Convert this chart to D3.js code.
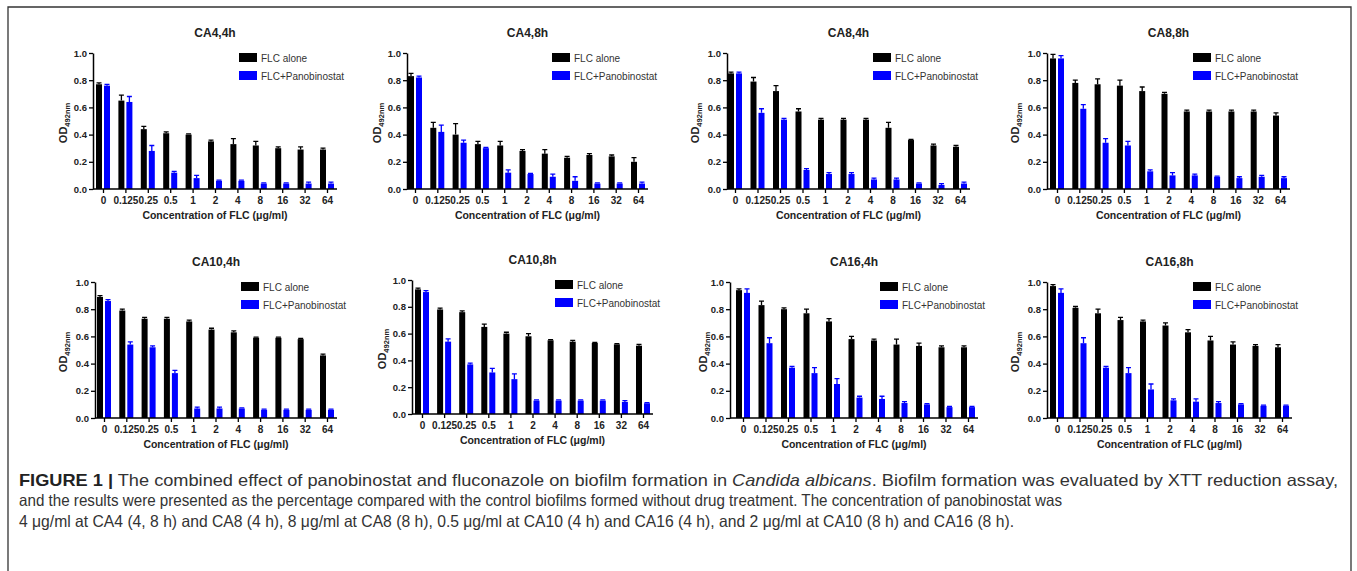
<!DOCTYPE html>
<html><head><meta charset="utf-8">
<script src="https://cdn.jsdelivr.net/npm/d3@7"></script>
<style>body{margin:0;background:#fff}svg{display:block}</style>
</head><body>
<svg id="c" width="1357" height="571"></svg>
<script>
// ---------- DATA ----------
const concentrations = ["0","0.125","0.25","0.5","1","2","4","8","16","32","64"];
const yTicks = [0, 0.2, 0.4, 0.6, 0.8, 1.0];
const seriesNames = ["FLC alone", "FLC+Panobinostat"];
const panelTitles = ["CA4,4h","CA4,8h","CA8,4h","CA8,8h","CA10,4h","CA10,8h","CA16,4h","CA16,8h"];

const ca4_4h_flc      = [0.77,0.65,0.44,0.41,0.40,0.35,0.33,0.32,0.30,0.29,0.29];
const ca4_4h_flcErr   = [0.01,0.04,0.02,0.01,0.005,0.01,0.04,0.03,0.01,0.02,0.01];
const ca4_4h_combo    = [0.76,0.64,0.28,0.12,0.08,0.06,0.06,0.04,0.04,0.04,0.04];
const ca4_4h_comboErr = [0.01,0.04,0.04,0.01,0.02,0.005,0.005,0.005,0.005,0.01,0.01];

const ca4_8h_flc      = [0.83,0.45,0.40,0.33,0.32,0.28,0.26,0.23,0.25,0.24,0.20];
const ca4_8h_flcErr   = [0.02,0.04,0.08,0.02,0.03,0.01,0.03,0.01,0.01,0.01,0.03];
const ca4_8h_combo    = [0.82,0.42,0.34,0.30,0.12,0.11,0.09,0.06,0.04,0.04,0.04];
const ca4_8h_comboErr = [0.01,0.05,0.02,0.005,0.02,0.005,0.02,0.03,0.005,0.005,0.01];

const ca8_4h_flc      = [0.85,0.79,0.72,0.57,0.51,0.51,0.51,0.45,0.36,0.32,0.31];
const ca8_4h_flcErr   = [0.01,0.03,0.04,0.02,0.01,0.01,0.01,0.04,0.005,0.01,0.01];
const ca8_4h_combo    = [0.85,0.56,0.51,0.14,0.11,0.11,0.07,0.07,0.04,0.03,0.04];
const ca8_4h_comboErr = [0.01,0.03,0.01,0.01,0.01,0.01,0.01,0.01,0.005,0.01,0.01];

const ca8_8h_flc      = [0.96,0.78,0.77,0.76,0.72,0.70,0.57,0.57,0.57,0.57,0.54];
const ca8_8h_flcErr   = [0.03,0.02,0.04,0.04,0.03,0.01,0.01,0.01,0.01,0.01,0.02];
const ca8_8h_combo    = [0.96,0.59,0.34,0.32,0.13,0.10,0.10,0.09,0.08,0.09,0.08];
const ca8_8h_comboErr = [0.02,0.03,0.03,0.03,0.01,0.02,0.01,0.005,0.01,0.01,0.01];

const ca10_4h_flc      = [0.89,0.79,0.73,0.73,0.71,0.65,0.63,0.59,0.59,0.58,0.46];
const ca10_4h_flcErr   = [0.01,0.01,0.01,0.01,0.01,0.01,0.01,0.005,0.005,0.005,0.01];
const ca10_4h_combo    = [0.86,0.54,0.52,0.33,0.07,0.07,0.07,0.06,0.06,0.06,0.06];
const ca10_4h_comboErr = [0.01,0.02,0.01,0.02,0.01,0.01,0.005,0.005,0.005,0.005,0.005];

const ca10_8h_flc      = [0.93,0.78,0.76,0.65,0.60,0.58,0.55,0.54,0.53,0.52,0.51];
const ca10_8h_flcErr   = [0.01,0.01,0.01,0.02,0.01,0.02,0.005,0.01,0.005,0.005,0.01];
const ca10_8h_combo    = [0.91,0.54,0.37,0.31,0.26,0.10,0.10,0.10,0.10,0.09,0.08];
const ca10_8h_comboErr = [0.01,0.02,0.01,0.03,0.04,0.005,0.005,0.005,0.005,0.01,0.005];

const ca16_4h_flc      = [0.94,0.83,0.80,0.77,0.71,0.58,0.57,0.54,0.53,0.52,0.52];
const ca16_4h_flcErr   = [0.01,0.03,0.01,0.03,0.02,0.02,0.01,0.04,0.02,0.01,0.01];
const ca16_4h_combo    = [0.92,0.55,0.37,0.33,0.25,0.15,0.14,0.11,0.10,0.08,0.08];
const ca16_4h_comboErr = [0.03,0.04,0.01,0.04,0.04,0.01,0.02,0.01,0.005,0.005,0.005];

const ca16_8h_flc      = [0.97,0.81,0.77,0.72,0.71,0.68,0.63,0.57,0.54,0.53,0.52];
const ca16_8h_flcErr   = [0.01,0.01,0.03,0.02,0.01,0.02,0.02,0.03,0.02,0.01,0.02];
const ca16_8h_combo    = [0.92,0.55,0.37,0.33,0.21,0.13,0.12,0.11,0.10,0.09,0.09];
const ca16_8h_comboErr = [0.03,0.04,0.01,0.04,0.04,0.01,0.02,0.01,0.005,0.005,0.005];

// ---------- LAYOUT ----------
const panelData = [
  [ca4_4h_flc, ca4_4h_flcErr, ca4_4h_combo, ca4_4h_comboErr],
  [ca4_8h_flc, ca4_8h_flcErr, ca4_8h_combo, ca4_8h_comboErr],
  [ca8_4h_flc, ca8_4h_flcErr, ca8_4h_combo, ca8_4h_comboErr],
  [ca8_8h_flc, ca8_8h_flcErr, ca8_8h_combo, ca8_8h_comboErr],
  [ca10_4h_flc, ca10_4h_flcErr, ca10_4h_combo, ca10_4h_comboErr],
  [ca10_8h_flc, ca10_8h_flcErr, ca10_8h_combo, ca10_8h_comboErr],
  [ca16_4h_flc, ca16_4h_flcErr, ca16_4h_combo, ca16_4h_comboErr],
  [ca16_8h_flc, ca16_8h_flcErr, ca16_8h_combo, ca16_8h_comboErr]
];
const layout = [
  {ax:93,  f:103, l:327, y1:53,  y0:189, lg:239, yt:63},
  {ax:407, f:415, l:638, y1:53,  y0:189, lg:552, yt:377},
  {ax:727, f:735, l:960, y1:53,  y0:189, lg:873, yt:695},
  {ax:1047,f:1057,l:1280,y1:53,  y0:189, lg:1193,yt:1015},
  {ax:95,  f:104, l:327, y1:282, y0:418, lg:241, yt:63},
  {ax:412, f:422, l:643, y1:280, y0:414, lg:555, yt:382},
  {ax:730, f:743, l:968, y1:282, y0:418, lg:880, yt:703},
  {ax:1047,f:1057,l:1282,y1:282, y0:418, lg:1193,yt:1015}
];
const colors = ["#000000", "#0000ff"];
const FONT = "'Liberation Sans', Arial, Helvetica, sans-serif";

const svg = d3.select("#c");

svg.append("path").attr("d","M8,571 V7 H1351 V571")
  .attr("fill","none").attr("stroke","#333").attr("stroke-width",1.3);

panelData.forEach((pd, i) => {
  const L = layout[i];
  const g = svg.append("g");
  const x = d3.scalePoint().domain(concentrations).range([L.f, L.l]);
  const y = d3.scaleLinear().domain([0, 1]).range([L.y0, L.y1]);
  const bw = 6, gap = 1;
  const series = [
    {vals: pd[0], errs: pd[1], off: -gap - bw, c: colors[0]},
    {vals: pd[2], errs: pd[3], off: gap, c: colors[1]}
  ];
  series.forEach(s => {
    const rows = concentrations.map((k, j) => ({k, v: s.vals[j], e: s.errs[j]}));
    g.append("g").selectAll("path").data(rows).join("path")
      .attr("d", d => {
        const cx = x(d.k) + s.off + bw / 2;
        return `M${cx},${y(d.v)}V${y(d.v + d.e)}M${cx - 2.5},${y(d.v + d.e)}H${cx + 2.5}`;
      })
      .attr("stroke", s.c).attr("stroke-width", 1.3).attr("fill", "none");
    g.append("g").selectAll("rect").data(rows).join("rect")
      .attr("x", d => x(d.k) + s.off)
      .attr("width", bw)
      .attr("y", d => y(d.v))
      .attr("height", d => y(0) - y(d.v))
      .attr("fill", s.c);
  });

  const ya = g.append("g").attr("transform", `translate(${L.ax},0)`)
    .call(d3.axisLeft(y).tickValues(yTicks).tickFormat(d3.format(".1f")).tickSize(4).tickSizeOuter(0));
  ya.select(".domain").attr("stroke-width", 1.5);
  ya.selectAll(".tick line").attr("stroke-width", 1.3);
  ya.selectAll("text").attr("font-family", FONT).attr("font-weight", "bold")
    .attr("font-size", 9.5).attr("fill", "#222").attr("x", -6);

  const xa = g.append("g").attr("transform", `translate(0,${L.y0})`)
    .call(d3.axisBottom(x).tickSize(4).tickSizeOuter(0));
  xa.select(".domain").remove();
  xa.append("line").attr("x1", L.ax).attr("x2", L.l + 10).attr("stroke", "#000").attr("stroke-width", 1.5);
  xa.selectAll(".tick line").attr("stroke-width", 1.3);
  xa.selectAll("text").attr("font-family", FONT).attr("font-weight", "bold")
    .attr("font-size", 10).attr("fill", "#222").attr("y", 8);

  g.append("text").attr("x", (L.ax + L.l + 10) / 2).attr("y", L.y0 + 30)
    .attr("text-anchor", "middle").attr("font-family", FONT).attr("font-weight", "bold")
    .attr("font-size", 10.5).attr("fill", "#222").text("Concentration of FLC (μg/ml)");

  g.append("text").attr("x", (L.ax + L.l + 10) / 2).attr("y", L.y1 - 16)
    .attr("text-anchor", "middle").attr("font-family", FONT).attr("font-weight", "bold")
    .attr("font-size", 12).attr("fill", "#222").text(panelTitles[i]);

  const yt = g.append("text")
    .attr("transform", `translate(${L.yt + 4},${(L.y0 + L.y1) / 2 + 2}) rotate(-90)`)
    .attr("text-anchor", "middle").attr("font-family", FONT).attr("font-weight", "bold")
    .attr("font-size", 11).attr("fill", "#222");
  yt.append("tspan").text("OD");
  yt.append("tspan").attr("font-size", 7.5).attr("dy", 3).text("492nm");

  seriesNames.forEach((nm, k) => {
    const ly = L.y1 + k * 18;
    g.append("rect").attr("x", L.lg).attr("y", ly).attr("width", 18).attr("height", 9)
      .attr("fill", colors[k]);
    g.append("text").attr("x", L.lg + 22).attr("y", ly + 8.5)
      .attr("font-family", FONT).attr("font-size", 10).attr("fill", "#333").text(nm);
  });
});

// ---------- CAPTION ----------
const CFONT = "'Liberation Sans Narrow', 'Liberation Sans', Arial, sans-serif";
const cap = svg.append("g").attr("font-family", CFONT).attr("font-size", 16.5).attr("fill", "#333");
const l1 = cap.append("text").attr("x", 19).attr("y", 486)
  .attr("textLength", 1319).attr("lengthAdjust", "spacingAndGlyphs");
l1.append("tspan").attr("font-weight", "bold").attr("fill", "#222").text("FIGURE 1 |");
l1.append("tspan").text(" The combined effect of panobinostat and fluconazole on biofilm formation in ");
l1.append("tspan").attr("font-style", "italic").text("Candida albicans");
l1.append("tspan").text(". Biofilm formation was evaluated by XTT reduction assay,");
cap.append("text").attr("x", 19).attr("y", 506)
  .attr("textLength", 1043).attr("lengthAdjust", "spacingAndGlyphs")
  .text("and the results were presented as the percentage compared with the control biofilms formed without drug treatment. The concentration of panobinostat was");
cap.append("text").attr("x", 19).attr("y", 527)
  .attr("textLength", 995).attr("lengthAdjust", "spacingAndGlyphs")
  .text("4 μg/ml at CA4 (4, 8 h) and CA8 (4 h), 8 μg/ml at CA8 (8 h), 0.5 μg/ml at CA10 (4 h) and CA16 (4 h), and 2 μg/ml at CA10 (8 h) and CA16 (8 h).");
</script>
</body></html>
